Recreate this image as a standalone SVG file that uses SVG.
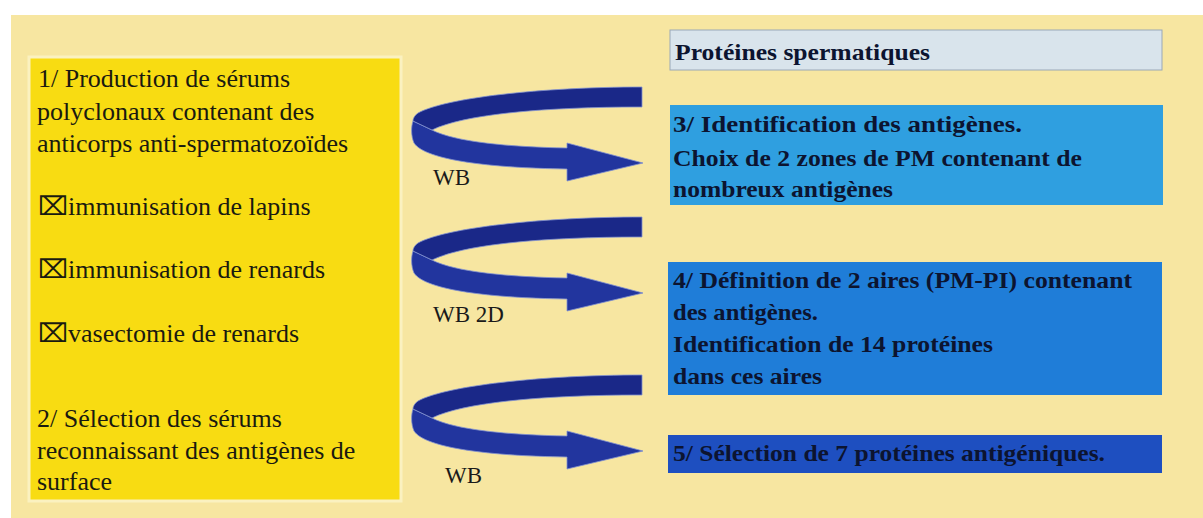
<svg xmlns="http://www.w3.org/2000/svg" width="1203" height="518" viewBox="0 0 1203 518">
<style>
.lt{font-family:"Liberation Serif","Times New Roman",serif;font-size:26px;fill:#1a1a10}
.rt{font-family:"Liberation Serif","Times New Roman",serif;font-size:24px;font-weight:bold;fill:#0c1430}
.wb{font-family:"Liberation Serif","Times New Roman",serif;font-size:23px;fill:#1a1a1a}
.band1{fill:#1a2888;stroke:#8090d0;stroke-width:0.8}
.band2{fill:#22359e;stroke:#8090d0;stroke-width:0.8}
</style>
<defs>
<g id="curl">
<path class="band2" d="M 413 121 L 432 130 C 455 142 510 147 567 148 L 567 143 L 643 163 L 567 181 L 567 169 C 490 168 425 160 414 143 C 411 136 411 127 413 121 Z"/>
<path class="band1" d="M 642 87 C 540 87 445 98 418 113 C 414 116 413 119 413 121 L 432 130 C 465 114 545 107 642 107 Z"/>
</g>
</defs>
<rect x="0" y="0" width="1203" height="518" fill="#ffffff"/>
<rect x="11" y="15" width="1192" height="503" fill="#f7e6a1"/>
<g id="node-left">
<rect x="29" y="57" width="372" height="444" fill="#f8dc12" stroke="#fbf1c0" stroke-width="3"/>
<text class="lt" x="38" y="87">1/ Production de sérums</text>
<text class="lt" x="37" y="120">polyclonaux contenant des</text>
<text class="lt" x="37" y="152">anticorps anti-spermatozoïdes</text>
<text class="lt" x="38" y="215">⌧immunisation de lapins</text>
<text class="lt" x="38" y="278">⌧immunisation de renards</text>
<text class="lt" x="38" y="342">⌧vasectomie de renards</text>
<text class="lt" x="37" y="427">2/ Sélection des sérums</text>
<text class="lt" x="37" y="459">reconnaissant des antigènes de</text>
<text class="lt" x="37" y="490">surface</text>
</g>
<g id="node-title">
<rect x="670" y="30" width="492" height="40" fill="#d9e4ec" stroke="#9aa8b8" stroke-width="1"/>
<text class="rt" x="675" y="60" textLength="255" lengthAdjust="spacingAndGlyphs">Protéines spermatiques</text>
</g>
<g id="node-3">
<rect x="670" y="105" width="493" height="100" fill="#2f9fe0"/>
<text class="rt" x="673" y="132" textLength="349" lengthAdjust="spacingAndGlyphs">3/ Identification des antigènes.</text>
<text class="rt" x="673" y="166" textLength="409" lengthAdjust="spacingAndGlyphs">Choix de 2 zones de PM contenant de</text>
<text class="rt" x="673" y="197" textLength="220" lengthAdjust="spacingAndGlyphs">nombreux antigènes</text>
</g>
<g id="node-4">
<rect x="668" y="262" width="494" height="133" fill="#1f7dd8"/>
<text class="rt" x="673" y="288" textLength="459" lengthAdjust="spacingAndGlyphs">4/ Définition de 2 aires (PM-PI) contenant</text>
<text class="rt" x="673" y="320" textLength="145" lengthAdjust="spacingAndGlyphs">des antigènes.</text>
<text class="rt" x="673" y="352" textLength="320" lengthAdjust="spacingAndGlyphs">Identification de 14 protéines</text>
<text class="rt" x="673" y="384" textLength="149" lengthAdjust="spacingAndGlyphs">dans ces aires</text>
</g>
<g id="node-5">
<rect x="668" y="435" width="494" height="38" fill="#1e4fc0"/>
<text class="rt" x="673" y="461" textLength="432" lengthAdjust="spacingAndGlyphs" fill="#0a1a50">5/ Sélection de 7 protéines antigéniques.</text>
</g>
<g id="connectors">
<use href="#curl"/>
<use href="#curl" transform="translate(0,130)"/>
<use href="#curl" transform="translate(0,288)"/>
<text class="wb" x="433" y="185">WB</text>
<text class="wb" x="433" y="322">WB 2D</text>
<text class="wb" x="445" y="483">WB</text>
</g>
</svg>
